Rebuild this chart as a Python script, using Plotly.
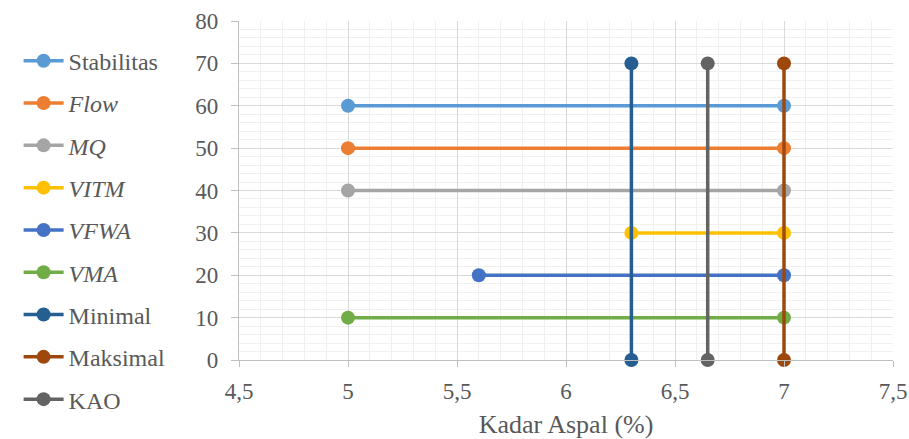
import plotly.graph_objects as go

# Horizontal criteria ranges (x = kadar aspal %, y = level)
names = ["Stabilitas", "<i>Flow</i>", "<i>MQ</i>", "<i>VITM</i>", "<i>VFWA</i>", "<i>VMA</i>",
         "Minimal", "Maksimal", "KAO"]
x_start = [5, 5, 5, 6.3, 5.6, 5, 6.3, 7, 6.65]
x_end = [7, 7, 7, 7, 7, 7, 6.3, 7, 6.65]
y_start = [60, 50, 40, 30, 20, 10, 0, 0, 0]
y_end = [60, 50, 40, 30, 20, 10, 70, 70, 70]
colors = ["#5B9BD5", "#ED7D31", "#A5A5A5", "#FFC000", "#4472C4", "#70AD47",
          "#255E91", "#9E480E", "#636363"]

x_ticks = [4.5, 5, 5.5, 6, 6.5, 7, 7.5]
x_ticktext = ["4,5", "5", "5,5", "6", "6,5", "7", "7,5"]
y_ticks = [0, 10, 20, 30, 40, 50, 60, 70, 80]

FONT = "Liberation Serif"
TXT = "#595959"
TICK_SIZE = 23

fig = go.Figure()
for i, n in enumerate(names):
    fig.add_trace(go.Scatter(
        x=[x_start[i], x_end[i]], y=[y_start[i], y_end[i]],
        mode="lines+markers", name=n, legendgroup=f"g{i}",
        line=dict(color=colors[i], width=3.5),
        marker=dict(color=colors[i], size=14),
        cliponaxis=False,
    ))

fig.update_layout(
    width=909, height=439,
    margin=dict(l=239, r=16, t=21, b=79, autoexpand=False),
    paper_bgcolor="white", plot_bgcolor="white",
    font=dict(family=FONT, color=TXT, size=TICK_SIZE),
    showlegend=True,
    legend=dict(
        x=-0.337, xanchor="left",
        y=0.948, yanchor="top",
        font=dict(family=FONT, size=24, color=TXT),
        tracegroupgap=8.1, itemwidth=40, maxheight=460,
        bgcolor="rgba(0,0,0,0)",
    ),
    xaxis=dict(
        range=[4.5, 7.5], tickvals=x_ticks, ticktext=x_ticktext,
        showgrid=True, gridcolor="#d9d9d9", gridwidth=1.3,
        minor=dict(dtick=0.1, showgrid=True, gridcolor="#f0f0f0", gridwidth=1),
        showline=True, linecolor="#bfbfbf", linewidth=1.3,
        ticks="outside", ticklen=6, tickcolor="#bfbfbf",
        tickfont=dict(family=FONT, size=TICK_SIZE, color=TXT),
        ticklabelstandoff=4,
        title=dict(text="Kadar Aspal (%)", font=dict(family=FONT, size=26, color=TXT), standoff=16),
        zeroline=False,
    ),
    yaxis=dict(
        range=[0, 80], tickvals=y_ticks,
        showgrid=True, gridcolor="#d9d9d9", gridwidth=1.3,
        minor=dict(dtick=2, showgrid=True, gridcolor="#f0f0f0", gridwidth=1),
        showline=True, linecolor="#bfbfbf", linewidth=1.3,
        ticks="outside", ticklen=7, tickcolor="#bfbfbf",
        tickfont=dict(family=FONT, size=TICK_SIZE, color=TXT),
        ticklabelstandoff=8,
        zeroline=False,
    ),
)

fig.write_html("out.html")
